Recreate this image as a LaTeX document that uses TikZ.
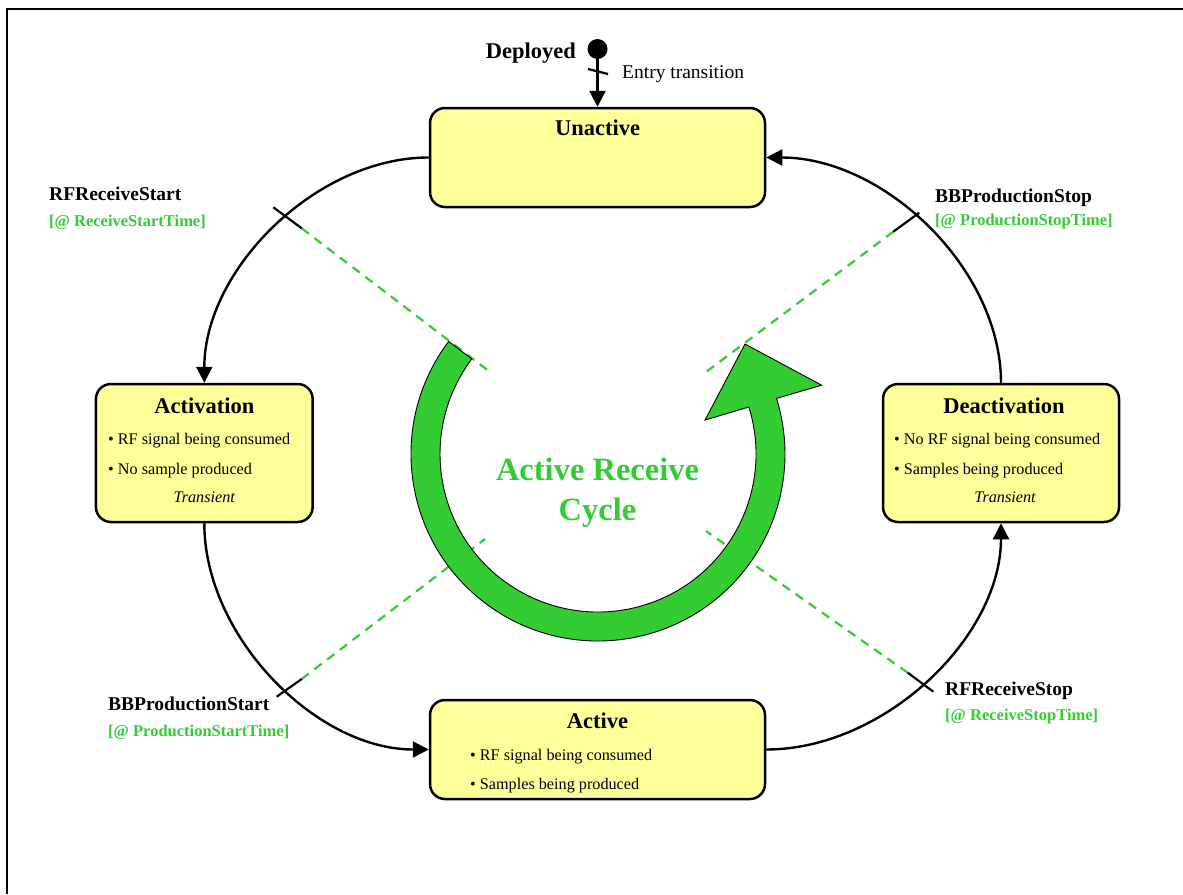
\documentclass[tikz,border=0pt]{standalone}
\usepackage{fontspec}
\setmainfont{Liberation Serif}
\usetikzlibrary{arrows.meta}
\definecolor{cgreen}{RGB}{51,204,51}
\definecolor{cyellow}{RGB}{255,255,153}
\tikzset{
  statebox/.style={draw, line width=2.5pt, fill=cyellow, rounded corners=15pt, inner sep=0pt},
  conn/.style={line width=2.4pt, -{Triangle[length=16pt,width=16pt]}},
  tick/.style={line width=2.2pt},
  guide/.style={cgreen, line width=2.2pt, dash pattern=on 9pt off 7pt},
  ttl/.style={anchor=base, font=\fontsize{22.5}{27}\selectfont\bfseries, inner sep=0pt},
  body/.style={anchor=base west, font=\fontsize{16.2}{19}\selectfont, inner sep=0pt},
  trans/.style={anchor=base, font=\fontsize{16.2}{19}\selectfont\itshape, inner sep=0pt},
  evt/.style={anchor=base west, font=\fontsize{19.5}{23}\selectfont\bfseries, inner sep=0pt},
  grd/.style={anchor=base west, font=\fontsize{16.5}{20}\selectfont\bfseries, text=cgreen, inner sep=0pt},
  cyc/.style={anchor=base, font=\fontsize{32.5}{38}\selectfont\bfseries, text=cgreen, inner sep=0pt}
}
\begin{document}
\begin{tikzpicture}[x=1pt,y=1pt]
\useasboundingbox (0,0) rectangle (1183,-894);
% frame
\draw[line width=2.2pt] (1183,-9) -- (7,-9) -- (7,-894);

% state boxes
\node[statebox, minimum width=335, minimum height=99] (unact) at (597.5,-157.5) {};
\node[statebox, minimum width=216.7, minimum height=138] (activ) at (204.3,-453) {};
\node[statebox, minimum width=236, minimum height=138] (deact) at (1001,-453) {};
\node[statebox, minimum width=335, minimum height=99] (act) at (597.5,-749.5) {};

% initial state
\node[circle, fill=black, inner sep=0pt, minimum size=20] (init) at (597.5,-49) {};
\draw[conn] (init) -- (unact.north);
\draw[tick] (588,-69) -- (608,-74);
\node[anchor=base east, font=\fontsize{22.5}{27}\selectfont\bfseries, inner sep=0pt] (dep) at (576,-58) {Deployed};
\node[anchor=base west, font=\fontsize{19.5}{23}\selectfont, inner sep=0pt] (entry) at (622,-78) {Entry transition};

% guide lines (dashed, green)
\coordinate (tlA) at (273.3,-207.3); \coordinate (tlB) at (301.7,-228.3); \coordinate (tlC) at (490,-372);
\coordinate (trA) at (919.3,-212.7); \coordinate (trB) at (893.3,-231.7); \coordinate (trC) at (706,-372);
\coordinate (blA) at (276.7,-696.7); \coordinate (blB) at (301.7,-679); \coordinate (blC) at (485,-539);
\coordinate (brA) at (933.3,-691.7); \coordinate (brB) at (907.7,-672.7); \coordinate (brC) at (706,-531);
\draw[guide] (tlB) -- (tlC);
\draw[guide] (trB) -- (trC);
\draw[guide] (blB) -- (blC);
\draw[guide] (brB) -- (brC);

% big green cycle arrow
\begin{scope}[shift={(598,-454)}]
\draw[fill=cgreen, line width=0.9pt, line join=miter]
  (143:187) arc[start angle=143, end angle=377.3, radius=187]
  -- (17.1:234) -- (36.8:183.6) -- (17.6:112.3) -- (17.3:158)
  arc[start angle=377.3, end angle=143, radius=158] -- cycle;
\end{scope}
\node[cyc] (cyc1) at (597.5,-480) {Active Receive};
\node[cyc] (cyc2) at (597.5,-520) {Cycle};

% transitions
\draw[conn] (unact.west) .. controls +(-113,0) and +(0,113) .. (activ.north);
\draw[conn] (activ.south) .. controls +(0,-113) and +(-113,0) .. (act.west);
\draw[conn] (act.east) .. controls +(118,0) and +(0,-114) .. (deact.south);
\draw[conn] (deact.north) .. controls +(0,114) and +(118,0) .. (unact.east);

% ticks
\draw[tick] (tlA) -- (tlB);
\draw[tick] (trA) -- (trB);
\draw[tick] (blA) -- (blB);
\draw[tick] (brA) -- (brB);

% box texts
\node[ttl] (t1) at (597.5,-135.7) {Unactive};
\node[ttl] (t2) at (204.3,-413.3) {Activation};
\node[body] (t2a) at (108,-444.3) {\textbullet\ RF signal being consumed};
\node[body] (t2b) at (108,-474.3) {\textbullet\ No sample produced};
\node[trans] (t2c) at (204.3,-502.7) {Transient};
\node[ttl] (t3) at (1004,-413.3) {Deactivation};
\node[body] (t3a) at (894,-444.3) {\textbullet\ No RF signal being consumed};
\node[body] (t3b) at (894,-474.3) {\textbullet\ Samples being produced};
\node[trans] (t3c) at (1005,-502.7) {Transient};
\node[ttl] (t4) at (597.5,-728.3) {Active};
\node[body] (t4a) at (470,-760) {\textbullet\ RF signal being consumed};
\node[body] (t4b) at (470,-789.3) {\textbullet\ Samples being produced};

% event labels
\node[evt] (e1) at (49,-200.7) {RFReceiveStart};
\node[grd] (g1) at (49,-226.7) {[@ ReceiveStartTime]};
\node[evt] (e2) at (935,-202.7) {BBProductionStop};
\node[grd] (g2) at (935,-225) {[@ ProductionStopTime]};
\node[evt] (e3) at (108,-710) {BBProductionStart};
\node[grd] (g3) at (108,-736.7) {[@ ProductionStartTime]};
\node[evt] (e4) at (945,-695.7) {RFReceiveStop};
\node[grd] (g4) at (945,-720) {[@ ReceiveStopTime]};
\end{tikzpicture}
\end{document}
